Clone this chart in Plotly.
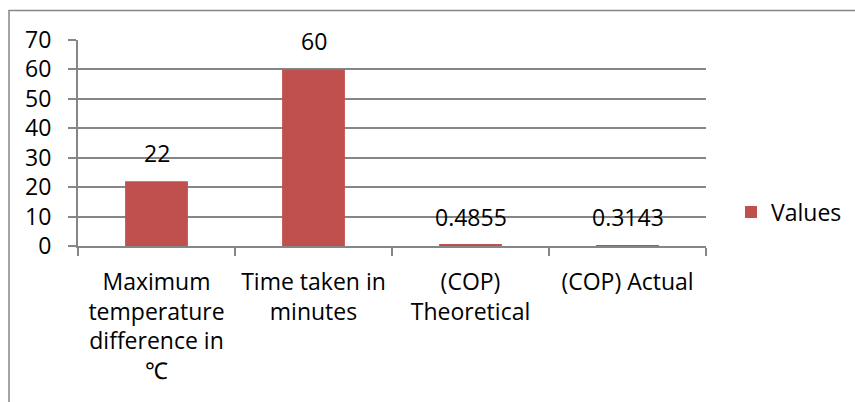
import plotly.graph_objects as go

categories = ["Maximum<br>temperature<br>difference in<br>\u2103",
              "Time taken in<br>minutes",
              "(COP)<br>Theoretical",
              "(COP) Actual"]
values = [22, 60, 0.4855, 0.3143]
value_labels = ["22", "60", "0.4855", "0.3143"]
series_name = "Values"
y_ticks = [0, 10, 20, 30, 40, 50, 60, 70]

FONT = "Open Sans"
FS = 23
BAR = "#C0504D"
GRID = "#868686"

fig = go.Figure()
fig.add_trace(go.Bar(
    x=categories, y=values, name=series_name,
    marker=dict(color=BAR, line=dict(width=0)),
    width=0.4,
))

for c, v, t in zip(categories, values, value_labels):
    fig.add_annotation(x=c, y=v, text=t, showarrow=False, yanchor="bottom",
                       yshift=10, font=dict(family=FONT, size=FS, color="black"))

W, H = 855, 402
L, R, T, B = 78, 149, 40, 156
pw, ph = W - L - R, H - T - B

def px_x(p):
    return (p - L) / pw

def px_y(p):
    return (H - B - p) / ph

fig.add_shape(type="rect", xref="paper", yref="paper",
              x0=px_x(9), x1=px_x(W + 10), y0=px_y(H + 10), y1=px_y(10.5),
              line=dict(color="#868686", width=1.5), fillcolor="rgba(0,0,0,0)", layer="below")

fig.update_layout(
    width=W, height=H,
    margin=dict(l=L, r=R, t=T, b=B, autoexpand=False),
    paper_bgcolor="white", plot_bgcolor="white",
    font=dict(family=FONT, size=FS, color="black"),
    showlegend=True,
    legend=dict(x=px_x(731), y=px_y(212), xanchor="left", yanchor="middle",
                font=dict(family=FONT, size=FS), itemwidth=30,
                bgcolor="rgba(0,0,0,0)"),
    xaxis=dict(
        automargin=False,
        showline=True, linecolor=GRID, linewidth=2,
        ticks="outside", ticklen=8, tickcolor=GRID, tickwidth=2,
        tickson="boundaries", showgrid=False,
        tickfont=dict(family=FONT, size=FS),
        ticklabelstandoff=14,
        range=[-0.5, 3.5],
    ),
    yaxis=dict(
        automargin=False,
        range=[0, 70], tickvals=y_ticks,
        showline=True, linecolor=GRID, linewidth=2,
        ticks="outside", ticklen=8, tickcolor=GRID, tickwidth=2,
        showgrid=True, gridcolor=GRID, gridwidth=1.5,
        zeroline=False,
        tickfont=dict(family=FONT, size=FS),
        ticklabelstandoff=12,
    ),
    bargap=0.6,
)

fig.write_html("out.html", config={"displayModeBar": False},
               post_script="document.body.style.margin='0';document.body.style.overflow='hidden';")
